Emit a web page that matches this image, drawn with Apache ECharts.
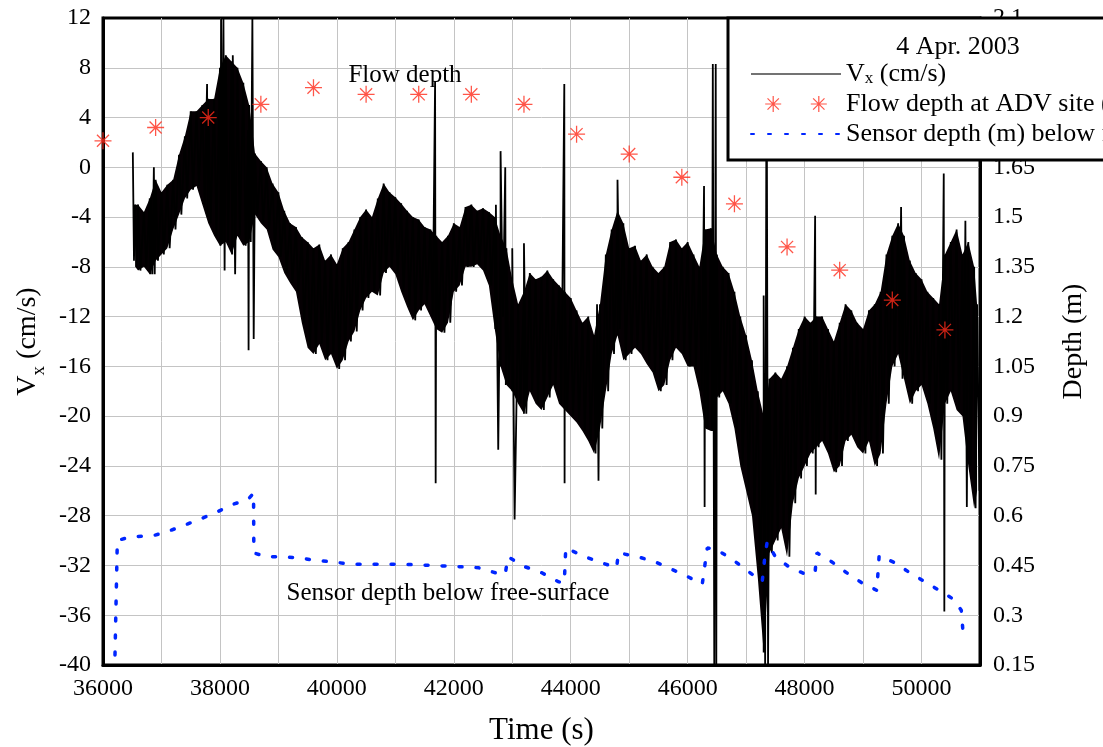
<!DOCTYPE html>
<html>
<head>
<meta charset="utf-8">
<title>Vx and depth, 4 Apr. 2003</title>
<script src="https://cdn.jsdelivr.net/npm/echarts@6/dist/echarts.min.js"></script>
<style>
  html, body { margin: 0; padding: 0; background: #fff; }
  #chart { width: 1103px; height: 747px; }
</style>
</head>
<body>
<div id="chart"></div>
<script>
  var FONT = 'Liberation Serif';

  // Vx band: time (s), top and bottom of the dense trace (cm/s)
  var bandTime = [36550, 36600, 36700, 36800, 36900, 37000, 37100, 37200, 37300, 37400,
    37500, 37600, 37700, 37800, 37900, 38000, 38100, 38200, 38300, 38400,
    38500, 38600, 38700, 38800, 38900, 39000, 39100, 39200, 39300, 39400,
    39500, 39600, 39700, 39800, 39900, 40000, 40100, 40200, 40300, 40400,
    40500, 40600, 40700, 40800, 40900, 41000, 41100, 41200, 41300, 41400,
    41500, 41600, 41700, 41800, 41900, 42000, 42100, 42200, 42300, 42400,
    42500, 42600, 42700, 42800, 42900, 43000, 43100, 43200, 43300, 43400,
    43500, 43600, 43700, 43800, 43900, 44000, 44100, 44200, 44300, 44400,
    44500, 44600, 44700, 44800, 44900, 45000, 45100, 45200, 45300, 45400,
    45500, 45600, 45700, 45800, 45900, 46000, 46100, 46200, 46300, 46400,
    46500, 46600, 46700, 46800, 46900, 47000, 47100, 47200, 47300, 47400,
    47500, 47600, 47700, 47800, 47900, 48000, 48100, 48200, 48300, 48400,
    48500, 48600, 48700, 48800, 48900, 49000, 49100, 49200, 49300, 49400,
    49500, 49600, 49700, 49800, 49900, 50000, 50100, 50200, 50300, 50400,
    50500, 50600, 50700, 50800, 50900, 50950];
  var bandHigh = [-3.0, -3.0, -3.6, -2.5, -1.0, -2.0, -1.4, -1.0, 1.0, 2.5,
    4.5, 4.5, 5.0, 5.5, 5.5, 8.0, 9.0, 8.5, 8.0, 6.8,
    5.0, 1.1, 0.5, 0.0, -1.3, -2.0, -3.5, -4.5, -4.8, -5.6,
    -6.0, -6.5, -6.2, -7.5, -7.0, -7.8, -6.5, -6.0, -5.0, -4.0,
    -3.4, -4.0, -2.5, -1.3, -2.0, -2.4, -2.9, -3.5, -4.0, -4.2,
    -4.8, -5.0, -5.5, -6.0, -5.5, -4.5, -4.8, -3.2, -3.0, -3.5,
    -3.3, -3.6, -4.0, -5.5, -6.5, -9.0, -11.0, -10.0, -8.5, -9.0,
    -8.8, -8.3, -9.0, -9.5, -10.0, -10.5, -11.5, -12.5, -12.0, -13.5,
    -11.0, -7.0, -5.0, -3.5, -4.5, -6.5, -6.3, -7.5, -7.0, -8.0,
    -8.5, -8.0, -6.0, -5.8, -6.5, -6.0, -7.0, -8.0, -5.0, -4.9,
    -7.0, -8.0, -8.5, -10.0, -12.0, -13.5, -15.5, -18.0, -20.0, -17.0,
    -16.5, -17.0, -16.0, -14.5, -13.0, -12.0, -12.5, -12.0, -12.0, -13.0,
    -14.0, -12.5, -11.0, -11.5, -12.5, -13.0, -11.5, -11.0, -10.0, -7.0,
    -5.5, -4.5, -5.5, -7.5, -8.5, -9.0, -10.0, -10.5, -11.0, -7.0,
    -6.0, -5.0, -7.0, -6.0, -8.0, -11.0];
  var bandLow = [-8.0, -8.3, -8.0, -8.6, -7.5, -7.0, -6.5, -5.0, -3.8, -2.5,
    -1.8, -1.5, -3.0, -4.5, -5.5, -6.3, -6.0, -7.0, -5.5, -6.3,
    -6.0, -3.8, -4.5, -5.0, -6.6, -7.2, -8.5, -9.3, -10.0, -12.5,
    -14.5, -15.0, -14.2, -15.5, -15.0, -16.2, -15.5, -14.0, -13.2, -11.5,
    -10.5, -10.0, -10.3, -8.5, -8.0, -8.6, -10.0, -11.2, -12.3, -11.5,
    -11.0, -12.0, -13.0, -13.3, -12.5, -10.0, -9.5, -8.0, -8.0, -7.8,
    -8.3, -9.5, -13.0, -16.0, -17.5, -18.0, -19.0, -19.8, -18.0, -19.0,
    -19.5, -18.5, -17.5, -19.0, -19.5, -20.0, -20.5, -21.2, -22.0, -23.0,
    -21.0, -18.0, -15.0, -13.5, -15.5, -15.0, -14.5, -15.0, -15.8, -16.5,
    -18.0, -17.5, -15.5, -14.5, -15.0, -16.0, -16.0, -18.0, -21.0, -21.2,
    -18.5, -18.0, -19.0, -21.0, -24.0, -26.0, -28.0, -33.0, -39.0, -31.0,
    -30.0, -29.0, -31.3, -27.0, -25.0, -24.0, -23.0, -22.5, -22.0, -23.0,
    -24.5, -24.0, -22.0, -21.5, -22.5, -23.0, -22.0, -24.0, -23.0, -19.0,
    -16.0, -15.0, -17.0, -19.0, -18.0, -17.5, -19.0, -21.0, -23.5, -19.0,
    -18.0, -19.5, -20.0, -24.0, -27.4, -26.0];

  // isolated Vx needles: time (s), tip and foot (cm/s)
  var spikeTime = [36510, 36820, 36870, 37780, 38020, 38060, 38220, 38480, 38555, 41680,
    42720, 42800, 42880, 43000, 43200, 43890, 44450, 44800, 46280, 46430,
    46480, 47300, 47350, 48180, 49650, 50380, 50750];
  var spikeHigh = [1.2, -2.5, 0.0, 6.7, 12.0, 12.0, 9.0, 3.0, 12.0, 6.9,
    -3.0, 1.3, 0.0, -6.5, -6.1, 6.7, -11.0, -1.0, -1.5, 8.3,
    8.3, -10.3, 12.0, -3.9, -3.2, -0.5, -4.3];
  var spikeLow = [-7.5, -8.6, -8.6, -4.0, -6.0, -8.3, -8.6, -14.7, -13.8, -25.4,
    -22.7, -12.0, -17.5, -28.3, -19.8, -25.4, -25.2, -13.0, -27.3, -40.0,
    -40.0, -40.0, -40.0, -26.3, -17.0, -35.7, -27.3];

  // flow depth at the ADV site (m)
  var flowTime = [36000, 36900, 37800, 38700, 39600, 40500, 41400, 42300, 43200,
    44100, 45000, 45900, 46800, 47700, 48600, 49500, 50400];
  var flowDepth = [1.73, 1.77, 1.80, 1.84, 1.89, 1.87, 1.87, 1.87, 1.84,
    1.75, 1.69, 1.62, 1.54, 1.41, 1.34, 1.25, 1.16];

  // sensor depth below the free surface (m)
  var sensorTime = [36205, 36245, 36460, 36860, 37085, 37370, 37650, 37910, 38220, 38480,
    38575, 38580, 38790, 39075, 39360, 39640, 39930, 40210, 40500, 40780,
    41060, 41630, 42140, 42425, 42710, 42880, 42925, 43220, 43505, 43790,
    43890, 43915, 44245, 44530, 44785, 44815, 45150, 45440, 45720, 46005,
    46250, 46335, 46480, 46760, 47045, 47275, 47320, 47360, 47500, 47730,
    48010, 48180, 48210, 48465, 48695, 48975, 49235, 49275, 49545, 49775,
    50055, 50340, 50540, 50680, 50710];
  var sensorDepth = [0.18, 0.525, 0.536, 0.54, 0.551, 0.57, 0.589, 0.608, 0.634, 0.649,
    0.668, 0.488, 0.476, 0.476, 0.473, 0.465, 0.461, 0.454, 0.454, 0.454,
    0.454, 0.45, 0.446, 0.443, 0.428, 0.424, 0.476, 0.446, 0.428, 0.401,
    0.398, 0.503, 0.476, 0.458, 0.443, 0.488, 0.476, 0.461, 0.439, 0.416,
    0.394, 0.503, 0.499, 0.469, 0.431, 0.401, 0.476, 0.521, 0.476, 0.446,
    0.424, 0.431, 0.488, 0.461, 0.431, 0.398, 0.375, 0.48, 0.458, 0.431,
    0.401, 0.371, 0.349, 0.315, 0.248];

  // trace runs tip -> foot at every reading, band and needles in time order
  var readings = [];
  bandTime.forEach(function (t, k) { readings.push([t, bandHigh[k], bandLow[k]]); });
  spikeTime.forEach(function (t, k) { readings.push([t, spikeHigh[k], spikeLow[k]]); });
  readings.sort(function (a, b) { return a[0] - b[0]; });
  var vxData = [];
  for (var i = 0; i < readings.length; i++) {
    var next = i < readings.length - 1 ? readings[i + 1][0] : readings[i][0] + 100;
    var step = Math.min(40, (next - readings[i][0]) / 2);
    vxData.push([readings[i][0], readings[i][1]]);
    vxData.push([readings[i][0] + step, readings[i][2]]);
  }
  var bandData = bandTime.map(function (t, k) { return [t, bandHigh[k], bandLow[k]]; });
  var flowData = flowTime.map(function (t, k) { return [t, flowDepth[k]]; });
  var sensorData = sensorTime.map(function (t, k) { return [t, sensorDepth[k]]; });

  var ASTER = 'M9.25 0L10.75 0L10.75 20L9.25 20Z M0 9.25L20 9.25L20 10.75L0 10.75Z ' +
    'M3.43 2.37L17.63 16.57L16.57 17.63L2.37 3.43Z M17.63 3.43L3.43 17.63L2.37 16.57L16.57 2.37Z';
  var ASTER2 = 'M66.25 0L67.75 0L67.75 20L66.25 20Z M57 9.25L77 9.25L77 10.75L57 10.75Z ' +
    'M60.43 2.37L74.63 16.57L73.57 17.63L59.37 3.43Z M74.63 3.43L60.43 17.63L59.37 16.57L73.57 2.37Z';

  var chart = echarts.init(document.getElementById('chart'));
  var txt = {color: '#000', fontFamily: FONT, fontSize: 24};

  var option = {
    backgroundColor: '#fff',
    animation: false,
    grid: {left: 103, right: 123, top: 18, bottom: 82, outerBoundsMode: 'none',
      show: true, borderColor: '#000', borderWidth: 3},
    xAxis: {
      type: 'value', min: 36000, max: 51000, interval: 1000,
      axisLine: {show: true, onZero: false, lineStyle: {color: '#000', width: 3}},
      axisTick: {show: false},
      axisLabel: Object.assign({margin: 12, formatter: function (v) { return v % 2000 === 0 ? String(v) : ''; }}, txt),
      splitLine: {show: true, showMinLine: false, showMaxLine: false, lineStyle: {color: '#c4c4c4', width: 1}},
      name: 'Time (s)', nameLocation: 'middle', nameGap: 50,
      nameTextStyle: {color: '#000', fontFamily: FONT, fontSize: 31}
    },
    yAxis: [{
      type: 'value', min: -40, max: 12, interval: 4, position: 'left',
      axisLine: {show: true, onZero: false, lineStyle: {color: '#000', width: 3}},
      axisTick: {show: false},
      axisLabel: Object.assign({margin: 12}, txt),
      splitLine: {show: true, showMinLine: false, showMaxLine: false, lineStyle: {color: '#c4c4c4', width: 1}},
      name: '{n|V}{s|x}{n| (cm/s)}', nameLocation: 'middle', nameGap: 48, nameRotate: 90,
      nameTextStyle: {
        color: '#000', fontFamily: FONT, fontSize: 28,
        rich: {
          n: {color: '#000', fontFamily: FONT, fontSize: 28, lineHeight: 34, verticalAlign: 'top'},
          s: {color: '#000', fontFamily: FONT, fontSize: 19, lineHeight: 19, verticalAlign: 'bottom'}
        }
      }
    }, {
      type: 'value', min: 0.15, max: 2.1, interval: 0.15, position: 'right',
      axisLine: {show: true, onZero: false, lineStyle: {color: '#000', width: 3}},
      axisTick: {show: false},
      axisLabel: Object.assign({margin: 13, formatter: function (v) { return String(parseFloat(v.toFixed(2))); }}, txt),
      splitLine: {show: false},
      name: 'Depth (m)', nameLocation: 'middle', nameGap: 80, nameRotate: 90,
      nameTextStyle: {color: '#000', fontFamily: FONT, fontSize: 28}
    }],
    legend: {
      orient: 'vertical', left: 745, top: 56, z: 60,
      itemWidth: 90, itemHeight: 16, itemGap: 4,
      data: [
        {name: 'Vx (cm/s)', itemStyle: {opacity: 0}, lineStyle: {color: '#444', width: 1.5}},
        {name: 'Flow depth at ADV site (m)', icon: 'path://' + ASTER + ' ' + ASTER2},
        {name: 'Sensor depth (m) below free-surface', itemStyle: {opacity: 0}}
      ],
      formatter: function (name) {
        return name === 'Vx (cm/s)' ? '{n|V}{s|x}{n| (cm/s)}' : name;
      },
      textStyle: {
        color: '#000', fontFamily: FONT, fontSize: 26, lineHeight: 26,
        rich: {
          n: {color: '#000', fontFamily: FONT, fontSize: 26, lineHeight: 26, verticalAlign: 'top'},
          s: {color: '#000', fontFamily: FONT, fontSize: 17, lineHeight: 17, verticalAlign: 'bottom'}
        }
      }
    },
    graphic: [
      {type: 'rect', z: 50, shape: {x: 728, y: 18, width: 420, height: 142},
        style: {fill: '#fff', stroke: '#000', lineWidth: 3}},
      {type: 'text', z: 60, x: 958, y: 47,
        style: {text: '4 Apr. 2003', fill: '#000', font: '26px "Liberation Serif"', textAlign: 'center', textVerticalAlign: 'middle'}},
      {type: 'text', z: 20, x: 405, y: 75,
        style: {text: 'Flow depth', fill: '#000', font: '25px "Liberation Serif"', textAlign: 'center', textVerticalAlign: 'middle'}},
      {type: 'text', z: 20, x: 448, y: 593,
        style: {text: 'Sensor depth below free-surface', fill: '#000', font: '25px "Liberation Serif"', textAlign: 'center', textVerticalAlign: 'middle'}}
    ],
    series: [{
      name: 'Vx band', type: 'custom', yAxisIndex: 0, z: 2, silent: true,
      data: bandData.slice(0, 1),
      encode: {x: 0, y: 1},
      renderItem: function (params, api) {
        var pts = [];
        for (var a = 0; a < bandData.length; a++) pts.push(api.coord([bandData[a][0], bandData[a][1]]));
        for (var b = bandData.length - 1; b >= 0; b--) pts.push(api.coord([bandData[b][0], bandData[b][2]]));
        return {type: 'polygon', shape: {points: pts}, style: {fill: '#050003'}};
      }
    }, {
      name: 'Vx (cm/s)', type: 'line', yAxisIndex: 0, data: vxData,
      symbol: 'none', sampling: null, z: 2,
      lineStyle: {color: '#000', width: 1.8},
      itemStyle: {color: '#000'}
    }, {
      name: 'Flow depth at ADV site (m)', type: 'scatter', yAxisIndex: 1, data: flowData,
      symbol: 'path://' + ASTER, symbolSize: 17, z: 4,
      itemStyle: {color: '#ff2a1a'}
    }, {
      name: 'Sensor depth (m) below free-surface', type: 'line', yAxisIndex: 1, data: sensorData,
      symbol: 'none', z: 3,
      lineStyle: {color: '#0026ff', width: 3.5, type: [3, 14], cap: 'round'},
      itemStyle: {color: '#0026ff'}
    }]
  };

  chart.setOption(option);
</script>
</body>
</html>
